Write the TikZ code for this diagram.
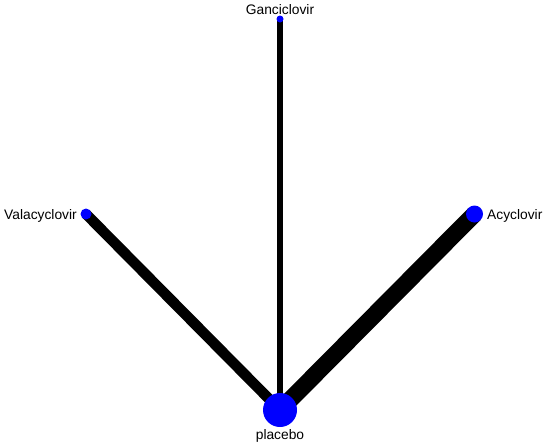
\documentclass[tikz,border=0pt]{standalone}
\usepackage{fontspec}
\setmainfont{Liberation Sans}
\begin{document}
\begin{tikzpicture}[x=1pt,y=-1pt,
  edge/.style={draw=black,line cap=butt},
  trt/.style={circle,fill=blue,inner sep=0pt,minimum size=#1},
  lab/.style={font=\fontsize{13.8}{16}\selectfont,inner sep=1pt}]
\useasboundingbox (0,0) rectangle (546,445);
\coordinate (G) at (280,19);
\coordinate (V) at (86,214);
\coordinate (A) at (474.5,214);
\coordinate (P) at (280,410);
\draw[edge,line width=5.5pt] (P) -- (G);
\draw[edge,line width=10.5pt] (P) -- (V);
\draw[edge,line width=17pt] (P) -- (A);
\node[trt=7pt] (g) at (G) {};
\node[trt=11pt] (v) at (V) {};
\node[trt=17pt] (a) at (A) {};
\node[trt=34pt] (p) at (P) {};
\node[lab,anchor=base] (gl) at (280,14) {Ganciclovir};
\node[lab,anchor=base east] (vl) at (78,219) {Valacyclovir};
\node[lab,anchor=base west] (al) at (486,219) {Acyclovir};
\node[lab,anchor=base] (pl) at (280,439) {placebo};
\end{tikzpicture}
\end{document}
